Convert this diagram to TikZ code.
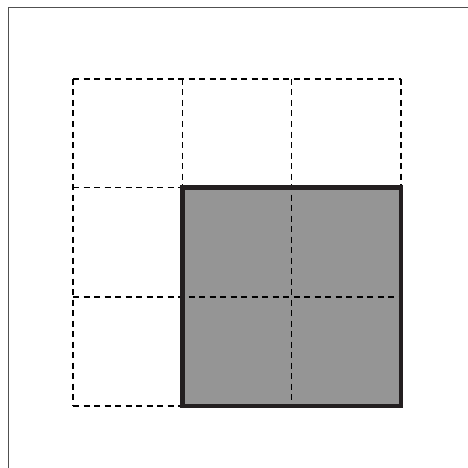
\documentclass[tikz,border=0pt]{standalone}
\begin{document}
\begin{tikzpicture}[x=1pt,y=-1pt,
  gridline/.style={draw=black,line width=1.2pt,dash pattern=on 6pt off 4.5pt},
  shaded/.style={fill=fillgray},
  heavy/.style={draw=edgedark,line width=4.5pt,line join=miter}]
\definecolor{fillgray}{HTML}{959595}
\definecolor{edgedark}{HTML}{231F20}
\definecolor{framegray}{HTML}{505050}
\useasboundingbox (0,0) rectangle (468,468);
\draw[framegray,line width=1pt] (8.5,480) -- (8.5,7.5) -- (480,7.5);
\fill[shaded] (182.3,187.7) rectangle (401,406);
\foreach \x in {73,182.3,291.7,401} \draw[gridline] (\x,79) -- (\x,406);
\foreach \y in {79,187.7,297,406} \draw[gridline] (73,\y) -- (401,\y);
\draw[heavy] (182.3,187.7) rectangle (401,406);
\end{tikzpicture}
\end{document}
